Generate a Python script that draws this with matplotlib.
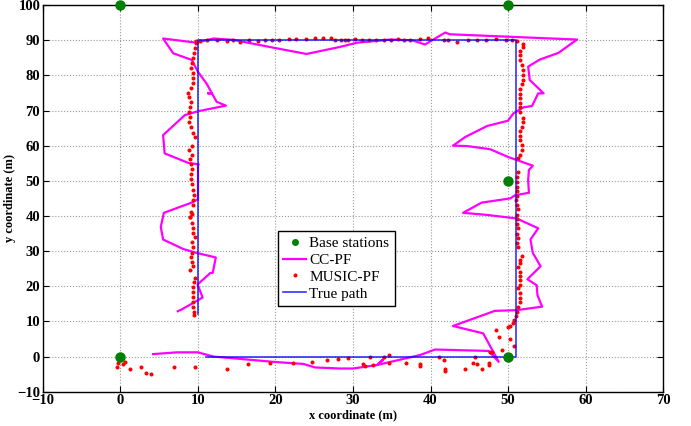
import numpy as np
import matplotlib
matplotlib.use('Agg')
import matplotlib.pyplot as plt

plt.rcParams['font.family'] = ['Liberation Serif', 'DejaVu Serif']

# base stations
bs_x = [0, 50, 50, 0, 50]
bs_y = [100, 100, 50, 0, 0]

# true path
true_x = [10, 10, 51, 51, 11]
true_y = [12, 90, 90, 0, 0]

# CC-PF estimate
cc_x = [7.4, 7.9, 9.4, 10.6, 9.95, 11.6, 11.9, 12.3, 10.0, 8.1, 5.5, 5.2, 5.6,
        9.3, 10.0, 10.0, 10.1, 8.75, 5.7, 5.5, 8.3, 10.0, 13.6, 12.4, 11.8,
        11.3, 11.8, 11.1, 10.0, 9.2, 6.8, 5.5, 9.8, 12.0, 14.6, 19.7, 24.0,
        28.3, 30.5, 34.8, 37.6, 39.3, 41.9, 42.5, 58.9, 56.5, 54.1, 52.6,
        52.8, 54.6, 53.9, 53.1, 52.0, 50.7, 50.0, 47.3, 44.5, 42.9, 44.7,
        47.7, 50.0, 50.9, 53.2, 52.7, 52.6, 52.7, 50.9, 50.3, 46.6, 44.2,
        47.3, 51.1, 53.9, 52.9, 53.2, 54.2, 52.5, 53.7, 53.8, 54.4, 51.1,
        48.3, 42.9, 46.8, 48.8, 47.5, 40.6, 38.6, 33.1, 33.9, 33.1, 30.0,
        28.3, 25.1, 23.6, 19.7, 14.6, 12.0, 10.0, 7.3, 4.2]
cc_y = [12.9, 13.4, 15.3, 16.8, 20.5, 23.8, 23.8, 28.2, 29.4, 30.6, 33.3,
        36.9, 40.9, 43.9, 44.8, 54.5, 54.7, 55.1, 57.8, 63.0, 68.7, 69.8,
        71.4, 72.5, 74.9, 74.9, 74.9, 77.7, 81.0, 84.4, 86.3, 90.5, 89.3,
        90.5, 90.1, 87.9, 86.1, 88.1, 89.3, 90.2, 90.0, 88.8, 92.2, 91.7,
        90.2, 86.4, 84.5, 82.5, 78.7, 74.9, 74.9, 71.3, 70.9, 69.2, 67.1,
        65.6, 62.5, 60.0, 59.9, 59.0, 56.8, 56.1, 54.3, 53.1, 50.2, 46.6,
        45.9, 45.0, 43.8, 40.9, 40.3, 39.3, 36.5, 33.3, 29.5, 25.7, 22.0,
        20.3, 17.5, 14.2, 13.2, 13.0, 8.7, 6.6, -1.5, 1.6, 2.0, 0.4, -2.4,
        -0.8, -2.4, -3.4, -3.4, -3.1, -2.1, -1.5, -0.5, 0.0, 1.2, 1.2, 0.7]

# MUSIC-PF estimate
mu_x = [9.5, 9.5, 9.4, 9.4, 9.4, 9.3, 9.4, 9.5, 9.6, 9.0, 9.4, 9.2, 9.1,
        9.2, 9.4, 9.2, 9.6, 9.4, 9.4, 9.2, 9.0, 9.2,
        9.0, 9.1, 9.3, 9.4, 9.5, 9.4, 9.2, 9.1, 9.1, 9.2, 9.1, 9.0, 9.2,
        8.9, 9.2, 9.6, 9.3, 9.1, 8.9, 9.0, 8.9, 9.0, 9.1, 8.9, 8.75, 9.1,
        9.3, 9.4, 9.3, 9.1, 9.2, 9.4, 9.5, 9.6, 9.7, 9.8,
        10.3, 11.1, 12.4, 13.7, 14.5, 15.4, 16.6, 17.8, 18.7, 19.5, 20.5,
        21.8, 22.6, 23.9, 25.1, 26.1, 27.2, 27.7, 28.5, 29.4,
        29.0, 30.3, 31.1, 32.1, 33.0, 34.0, 34.9, 35.8, 36.6, 37.4, 38.6,
        39.7, 41.7, 42.3, 43.4, 44.9, 46.0, 47.2, 48.5, 49.7, 50.5,
        51.2, 51.9, 51.9, 51.5, 51.5, 51.6, 51.8, 51.9, 51.9, 51.9, 51.8,
        51.6, 51.6, 51.5, 51.5, 51.5, 51.5, 51.9, 51.9, 51.8, 51.5, 51.5,
        51.5, 51.8, 51.8, 51.5, 51.3,
        51.3, 51.2, 51.1, 51.2, 51.1, 51.2, 51.0, 51.2, 51.3, 51.2, 51.1,
        51.2, 51.3, 51.2, 51.3, 51.2, 51.3, 51.8, 51.6, 51.6, 51.3, 51.5,
        51.5, 51.5, 51.5, 51.3, 51.5, 51.5, 51.5, 51.3, 51.2, 51.0, 50.8,
        50.7, 50.3, 50.0, 48.5, 48.8, 50.3, 50.8, 49.2, 47.9,
        47.7, 47.5, 47.5, 46.6, 46.0, 45.7, 45.5, 44.5, 41.9, 41.9, 41.7,
        41.1, 38.6, 38.6, 36.9, 34.7, 34.7, 34.0, 32.6, 32.2, 31.5, 31.3,
        29.4, 28.1, 26.6, 24.7, 22.2, 19.3, 16.4, 13.7, 9.6, 6.9, 3.9, 3.3,
        2.7, 1.2, 0.6, 0.3, -0.3, -0.5]
mu_y = [11.8, 12.8, 14.2, 15.6, 17.0, 18.5, 19.7, 21.3, 22.4, 24.6, 25.8,
        27.0, 28.4, 29.6, 31.3, 32.7, 33.9, 35.1, 36.5, 37.9, 39.8, 40.7,
        39.8, 41.2, 43.1, 44.5, 45.9, 47.3, 49.2, 50.6, 51.9, 53.5, 54.7,
        56.3, 57.3, 58.7, 60.0, 62.5, 63.5, 65.4, 66.8, 68.2, 69.6, 71.0,
        72.4, 73.9, 74.9, 76.3, 77.7, 79.2, 80.7, 82.0, 83.4, 84.9, 86.3,
        87.7, 89.1, 89.9,
        89.9, 90.0, 90.2, 89.8, 90.2, 89.6, 90.0, 89.8, 90.2, 90.2, 90.0,
        90.3, 90.3, 90.3, 90.5, 90.6, 90.6, 90.0, 90.2, 90.2,
        90.2, 90.3, 90.2, 90.0, 90.0, 90.0, 90.2, 90.3, 90.2, 90.2, 90.3,
        90.7, 90.2, 90.0, 89.6, 90.2, 90.2, 90.2, 90.3, 90.2, 90.2,
        89.9, 88.9, 88.0, 87.0, 85.8, 84.4, 82.9, 81.5, 80.1, 78.7, 77.5,
        76.0, 74.7, 73.5, 72.2, 71.1, 69.6, 68.0, 66.8, 65.4, 64.2, 62.7,
        61.6, 60.2, 58.9, 57.3, 56.4,
        52.6, 51.2, 49.7, 48.3, 47.2, 45.7, 44.5, 43.1, 41.9, 40.3, 39.0,
        37.7, 36.5, 35.0, 33.6, 32.4, 31.1, 28.6, 27.6, 26.5, 25.5, 24.1,
        22.9, 21.8, 20.3, 19.4, 18.0, 16.8, 15.6, 14.2, 12.7, 11.5, 10.4,
        9.6, 8.7, 8.5, 7.7, 5.6, 5.0, 3.0, 1.8, 1.2,
        1.4, -1.8, -2.4, -3.4, -2.1, -0.2, -1.8, -3.4, -3.4, -4.1, -1.0,
        0.0, -2.1, -2.6, -1.8, 0.4, -1.8, 0.0, -2.4, 0.0, -2.6, -2.1,
        -0.5, -0.7, -1.0, -1.5, -1.8, -1.8, -2.1, -3.4, -2.9, -3.1, -5.1,
        -4.8, -3.1, -3.4, -1.5, -2.2, -1.8, -2.9]

fig = plt.figure(figsize=(6.91, 4.26), dpi=100)
ax = fig.add_axes([0.0622, 0.0805, 0.8973, 0.9075])

ax.plot(bs_x, bs_y, 'o', color='#007f00', markersize=6.5, clip_on=False,
        zorder=5, label='Base stations')
ax.plot(cc_x, cc_y, '-', color='#ff00ff', lw=1.6, label='CC-PF')
ax.plot(mu_x, mu_y, '.', color='#ff0000', markersize=3.8, label='MUSIC-PF')
ax.plot(true_x, true_y, '-', color='#0000ff', lw=1.2, alpha=0.8,
        label='True path')

ax.set_xlim(-10, 70)
ax.set_ylim(-10, 100)
ax.set_xticks(np.arange(-10, 71, 10))
ax.set_yticks(np.arange(-10, 101, 10))
ax.grid(True, linestyle=':', color='#999999', lw=0.8)
ax.tick_params(direction='in', top=True, right=True, length=4,
               labelsize=10.5, pad=2)
for lab in ax.get_xticklabels() + ax.get_yticklabels():
    lab.set_fontweight('bold')
for s in ax.spines.values():
    s.set_linewidth(1.0)

ax.set_xlabel('x coordinate (m)', fontsize=9, fontweight='bold', labelpad=1)
ax.set_ylabel('y coordinate (m)', fontsize=9, fontweight='bold', labelpad=1)

leg = ax.legend(loc='lower left', bbox_to_anchor=(0.379, 0.222),
                fontsize=11, handlelength=1.5, handletextpad=0.2,
                borderpad=0.35, labelspacing=0.2, fancybox=False,
                framealpha=1, edgecolor='black', borderaxespad=0)
leg.get_frame().set_linewidth(1.0)
leg.legend_handles[0].set_markersize(4)

fig.savefig('out.png', dpi=100)
